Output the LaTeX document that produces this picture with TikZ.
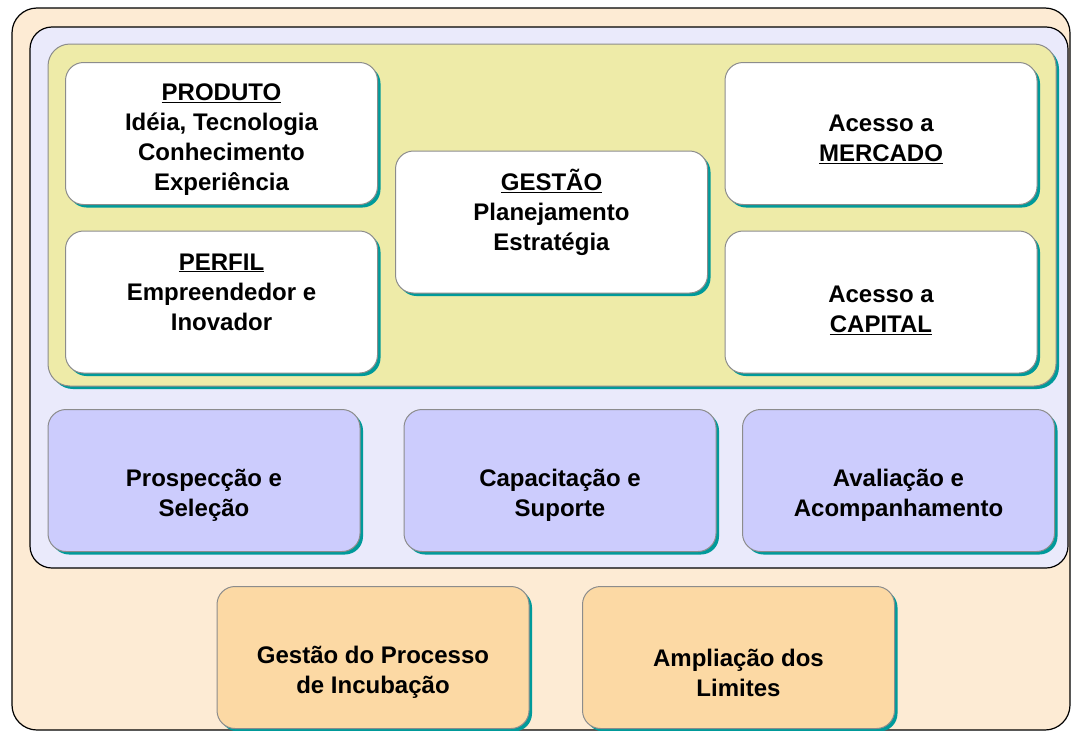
\documentclass[tikz,border=0pt]{standalone}
\usepackage{fontspec}
\setmainfont{Liberation Sans}
\usetikzlibrary{shadows,positioning}

\definecolor{pessego}{HTML}{FDEBD4}
\definecolor{lavanda}{HTML}{EAEAFB}
\definecolor{amarelo}{HTML}{EEEBA8}
\definecolor{azul}{HTML}{CCCCFD}
\definecolor{laranja}{HTML}{FCD9A4}
\definecolor{sombra}{HTML}{009A9A}
\definecolor{borda}{HTML}{8C8C8C}

\tikzset{
  caixa/.style={draw=borda, line width=1pt, rounded corners=18pt,
    minimum width=312pt, minimum height=142pt, inner sep=0pt,
    drop shadow={shadow xshift=3pt, shadow yshift=-3pt, fill=sombra, opacity=1}},
  texto/.style={align=center, font=\bfseries\fontsize{24}{30}\selectfont},
}

\begin{document}
\begin{tikzpicture}[x=1pt,y=-1pt]
		\clip (0,0) rectangle (1072,731);
		% molduras
		\draw[fill=pessego, line width=1.2pt, rounded corners=25pt] (12,8) rectangle (1070,730);
		\draw[fill=lavanda, line width=1.2pt, rounded corners=22pt] (30,27) rectangle (1068,568);
		\draw[draw=borda, fill=amarelo, line width=1pt, rounded corners=22pt, drop shadow={shadow xshift=3pt, shadow yshift=-3pt, fill=sombra, opacity=1}] (48,44) rectangle (1056,386);
		
		% caixas brancas
		\node[caixa, fill=white] (produto) at (221.5,133.5) {};
		\node[caixa, fill=white] (perfil) at (221.5,302) {};
		\node[caixa, fill=white] (gestao) at (551.5,222) {};
		\node[caixa, fill=white] (mercado) at (881,133.5) {};
		\node[caixa, fill=white] (capital) at (881,302) {};
		
		\node[texto, below=6pt of produto.center, anchor=center] {\underline{PRODUTO}\\Idéia, Tecnologia\\Conhecimento\\Experiência};
		\node[texto, above=10pt of perfil.center, anchor=center] {\underline{PERFIL}\\Empreendedor e\\Inovador};
		\node[texto, above=10pt of gestao.center, anchor=center] {\underline{GESTÃO}\\Planejamento\\Estratégia};
		\node[texto, below=6pt of mercado.center, anchor=center] {Acesso a\\\underline{MERCADO}};
		\node[texto, below=8pt of capital.center, anchor=center] {Acesso a\\\underline{CAPITAL}};
		
		% caixas azuis
		\node[caixa, fill=azul] (prospeccao) at (204,480.5) {};
		\node[caixa, fill=azul] (capacitacao) at (560,480.5) {};
		\node[caixa, fill=azul] (avaliacao) at (898.5,480.5) {};
		
		\node[texto, below=15pt of prospeccao.center, anchor=center] {Prospecção e\\Seleção};
		\node[texto, below=15pt of capacitacao.center, anchor=center] {Capacitação e\\Suporte};
		\node[texto, below=15pt of avaliacao.center, anchor=center] {Avaliação e\\Acompanhamento};
		
		% caixas laranja
		\node[caixa, fill=laranja] (processo) at (373,657.5) {};
		\node[caixa, fill=laranja] (limites) at (738.5,657.5) {};
		
		\node[texto, below=15pt of processo.center, anchor=center] {Gestão do Processo\\de Incubação};
		\node[texto, below=15pt of limites.center, anchor=center] {Ampliação dos\\Limites};
		
\end{tikzpicture}
\end{document}
